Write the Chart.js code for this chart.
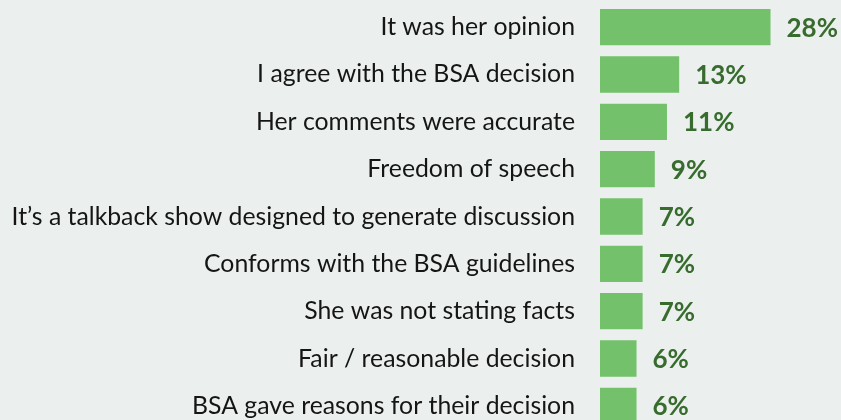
<!DOCTYPE html>
<html>
<head>
<meta charset="utf-8">
<script src="https://cdn.jsdelivr.net/npm/chart.js@4.4.1/dist/chart.umd.min.js"></script>
<style>
  html, body { margin: 0; padding: 0; background: #ebf0ee; overflow: hidden; }
  #wrap { width: 841px; height: 420px; overflow: hidden; position: relative; background: #ebf0ee; }
  canvas { display: block; }
</style>
</head>
<body>
<div id="wrap"><canvas id="c" width="841" height="432" style="width:841px;height:432px"></canvas></div>
<script>
const categories = [
  "It was her opinion",
  "I agree with the BSA decision",
  "Her comments were accurate",
  "Freedom of speech",
  "It\u2019s a talkback show designed to generate discussion",
  "Conforms with the BSA guidelines",
  "She was not stating facts",
  "Fair / reasonable decision",
  "BSA gave reasons for their decision"
];
const values = [28, 13, 11, 9, 7, 7, 7, 6, 6];
const valueLabels = ["28%", "13%", "11%", "9%", "7%", "7%", "7%", "6%", "6%"];

const barLabelPlugin = {
  id: 'barLabels',
  afterDatasetsDraw(chart) {
    const ctx = chart.ctx;
    const meta = chart.getDatasetMeta(0);
    ctx.save();
    ctx.font = 'bold 26px Lato';
    ctx.fillStyle = '#386b2e';
    ctx.textAlign = 'left';
    ctx.textBaseline = 'middle';
    meta.data.forEach((bar, i) => {
      ctx.fillText(valueLabels[i], bar.x + 16, bar.y + 1);
    });
    ctx.restore();
  }
};

new Chart(document.getElementById('c'), {
  type: 'bar',
  data: {
    labels: categories,
    datasets: [{
      data: values,
      backgroundColor: '#74c16c',
      borderWidth: 0,
      barPercentage: 0.767,
      categoryPercentage: 1
    }]
  },
  options: {
    indexAxis: 'y',
    responsive: false,
    maintainAspectRatio: false,
    animation: false,
    layout: { padding: { top: 3.5, right: 0, bottom: 0, left: 0 } },
    plugins: { legend: { display: false }, tooltip: { enabled: false } },
    scales: {
      x: { display: false, min: 0, max: 39.57 },
      y: {
        afterFit(scale) { scale.width = 600; },
        grid: { display: false, drawTicks: true, tickLength: 25 },
        border: { display: false },
        ticks: {
          padding: 0,
          color: '#151515',
          font: { family: 'Lato', size: 24.8, lineHeight: 0.2 }
        }
      }
    }
  },
  plugins: [barLabelPlugin]
});
</script>
</body>
</html>
